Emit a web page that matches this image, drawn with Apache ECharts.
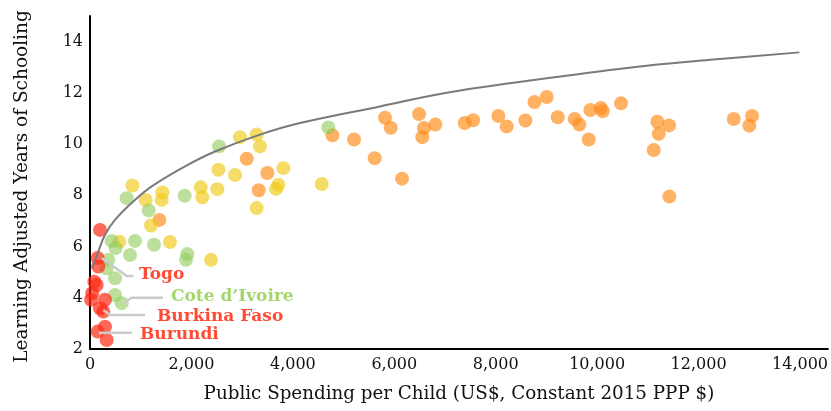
<!DOCTYPE html>
<html>
<head>
<meta charset="utf-8">
<script src="https://cdn.jsdelivr.net/npm/echarts@6/dist/echarts.min.js"></script>
<style>html,body{margin:0;padding:0;background:#fff}#c{width:831px;height:411px}</style>
</head>
<body>
<div id="c"></div>
<script>
// ---- data: [spending per child, learning adjusted years of schooling]
const redPoints = [[197,6.65],[151,5.55],[164,5.22],[85,4.63],[132,4.5],[45,4.18],[20,3.92],[296,3.92],[197,3.59],[262,3.46],[296,2.87],[151,2.68],[329,2.35]];
const greenPoints = [[427,6.22],[887,6.22],[506,5.94],[789,5.67],[362,5.48],[329,5.15],[493,4.76],[493,4.11],[625,3.79],[1262,6.07],[1919,5.71],[1893,5.48],[723,7.89],[1157,7.41],[1867,7.98],[2544,9.91],[4700,10.65]];
const yellowPoints = [[578,6.19],[1578,6.18],[1203,6.82],[2386,5.48],[835,8.38],[1098,7.82],[1426,8.11],[1413,7.82],[2183,8.31],[2215,7.92],[2511,8.24],[2531,9.0],[2859,8.79],[2958,10.27],[3287,10.37],[3352,9.91],[3813,9.06],[3714,8.41],[3668,8.25],[3287,7.5],[4569,8.44]];
const orangePoints = [[1367,7.04],[3090,9.43],[3497,8.87],[3327,8.2],[4780,10.34],[5206,10.18],[5614,9.45],[5817,11.03],[5929,10.64],[6153,8.65],[6488,11.17],[6586,10.63],[6553,10.27],[6810,10.76],[7389,10.82],[7553,10.93],[8052,11.1],[8216,10.69],[8585,10.92],[8763,11.64],[9006,11.84],[9223,11.05],[9558,10.98],[9650,10.76],[9834,10.18],[9866,11.33],[10071,11.41],[10110,11.28],[10471,11.59],[11187,10.87],[11418,10.73],[11214,10.4],[11116,9.77],[11424,7.95],[12693,10.98],[13055,11.1],[13001,10.72]];
// trend curve
const trendCurve = [[45,5.15],[65,5.28],[164,5.8],[296,6.46],[493,7.04],[887,7.82],[1217,8.35],[1873,9.13],[2465,9.71],[3352,10.37],[4141,10.82],[5719,11.47],[7034,12.0],[8348,12.39],[9663,12.74],[10978,13.06],[12292,13.30],[13988,13.58]];
// annotations
const annoNames = ['Togo','Cote d\u2019Ivoire','Burkina Faso','Burundi'];
const annoColors = ['#ff1e00','#8dcc4a','#ff1e00','#ff1e00'];
const annoLeaders = [
  [[233,5.55],[724,4.85],[854,4.85]],
  [[657,3.79],[822,4.0],[1440,4.0]],
  [[262,3.52],[394,3.33],[1085,3.33]],
  [[178,2.63],[828,2.63]]
];
const annoLabelAt = [[966,4.89],[1597,4.03],[1321,3.25],[986,2.55]];
const xTicks = {min:0, max:14550, interval:2000};
const yTicks = {min:2, max:15, interval:2};

const FONT = 'DejaVu Serif';
const chart = echarts.init(document.getElementById('c'), null, {renderer:'canvas'});
function scatter(data, color, op){
  return {type:'scatter', data, symbolSize:14, itemStyle:{color, opacity:op}, z:2, silent:true};
}
const series = [
  scatter(orangePoints,'#ff8c1a',0.68),
  scatter(yellowPoints,'#efc915',0.65),
  scatter(greenPoints,'#8fcb58',0.6),
  scatter(redPoints,'#ff2a12',0.7),
  {type:'line', data:trendCurve, smooth:0.4, showSymbol:false, symbol:'none', lineStyle:{color:'#7a7a7a', width:2}, z:4, silent:true}
];
annoLeaders.forEach(l=>series.push({type:'line', data:l, symbol:'none', lineStyle:{color:'#cbcbcb', width:2.5}, z:5, silent:true}));
series.push({type:'scatter', symbolSize:0, z:6, silent:true,
  data: annoLabelAt.map((p,i)=>({value:p, label:{show:true, position:'right', distance:0, formatter:annoNames[i], color:annoColors[i], fontFamily:FONT, fontWeight:'bold', fontSize:17}}))
});

chart.setOption({
  animation:false,
  backgroundColor:'#fff',
  grid:{left:90, right:3, top:16, bottom:62},
  xAxis:{type:'value', min:xTicks.min, max:xTicks.max, interval:xTicks.interval,
    name:'Public Spending per Child (US$, Constant 2015 PPP $)', nameLocation:'middle', nameGap:36,
    nameTextStyle:{fontFamily:FONT, fontSize:18.3, color:'#111'},
    axisLine:{show:true, onZero:false, lineStyle:{color:'#000', width:2}},
    axisTick:{show:false}, splitLine:{show:false},
    axisLabel:{showMaxLabel:false, margin:8, fontFamily:FONT, fontSize:16, color:'#111',
      formatter:v=>v.toLocaleString('en-US')}
  },
  yAxis:{type:'value', min:yTicks.min, max:yTicks.max, interval:yTicks.interval,
    name:'Learning Adjusted Years of Schooling', nameLocation:'middle', nameGap:58, nameRotate:90,
    nameTextStyle:{fontFamily:FONT, fontSize:18.5, color:'#111', padding:[0,8,0,0]},
    axisLine:{show:true, onZero:false, lineStyle:{color:'#000', width:2}},
    axisTick:{show:false}, splitLine:{show:false},
    axisLabel:{showMaxLabel:false, margin:7, fontFamily:FONT, fontSize:16, color:'#111'}
  },
  series
});
</script>
</body>
</html>
